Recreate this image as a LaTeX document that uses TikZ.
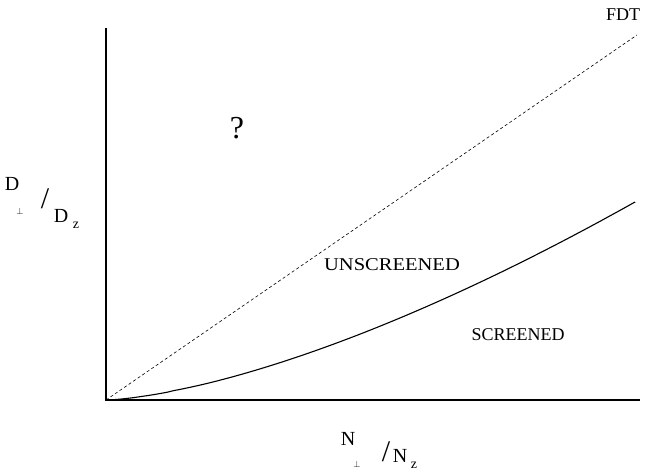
\documentclass[tikz,border=0pt]{standalone}
\usepackage{fontspec}
\setmainfont{Liberation Serif}
\begin{document}
\begin{tikzpicture}[x=1pt,y=-1pt,
  axis/.style={line width=1.4pt},
  fdtline/.style={dashed, line width=0.6pt, dash pattern=on 3pt off 2.5pt},
  curveline/.style={line width=1.1pt},
  lbl/.style={inner sep=0pt, font=\fontsize{18}{20}\selectfont},
  big/.style={inner sep=0pt, font=\fontsize{20}{22}\selectfont},
  slash/.style={inner sep=0pt, font=\fontsize{30}{32}\selectfont},
  sub/.style={inner sep=0pt, font=\fontsize{14}{16}\selectfont},
  perp/.style={inner sep=0pt, font=\fontsize{9}{10}\selectfont}]
\useasboundingbox (0,0) rectangle (647,470);
\coordinate (origin) at (106,400);
\coordinate (ytop) at (106,28);
\coordinate (xend) at (640,400);
\coordinate (fdtend) at (637,35);
\coordinate (cend) at (635,202);
\draw[axis] (ytop) -- (origin) -- (xend);
\draw[fdtline] (origin) -- (fdtend);
\draw[curveline] (origin) -- plot[domain=1:529, samples=80]
  ({106+\x}, {400-198*exp(1.5*ln(\x/529))}) -- (cend);
\node[lbl] (fdt) at (623,15) {FDT};
\node[inner sep=0pt, font=\fontsize{32}{34}\selectfont] (q) at (237,128) {?};
\node[lbl] (unscr) at (392,265) {\scalebox{1.14}[1]{UNSCREENED}};
\node[lbl] (scr) at (518,335) {SCREENED};
% y-axis label
\node[big] (dperp) at (12,184) {D};
\node[perp] (dperpsym) at (20,211) {$\perp$};
\node[slash] (dslash) at (45,199) {/};
\node[big] (dz) at (61,216) {D};
\node[sub] (dzsub) at (76,225) {z};
% x-axis label
\node[big] (nperp) at (348,439) {N};
\node[perp] (nperpsym) at (357,464) {$\perp$};
\node[slash] (nslash) at (386,452) {/};
\node[big] (nz) at (400,456) {N};
\node[sub] (nzsub) at (414,465) {z};
\end{tikzpicture}
\end{document}
